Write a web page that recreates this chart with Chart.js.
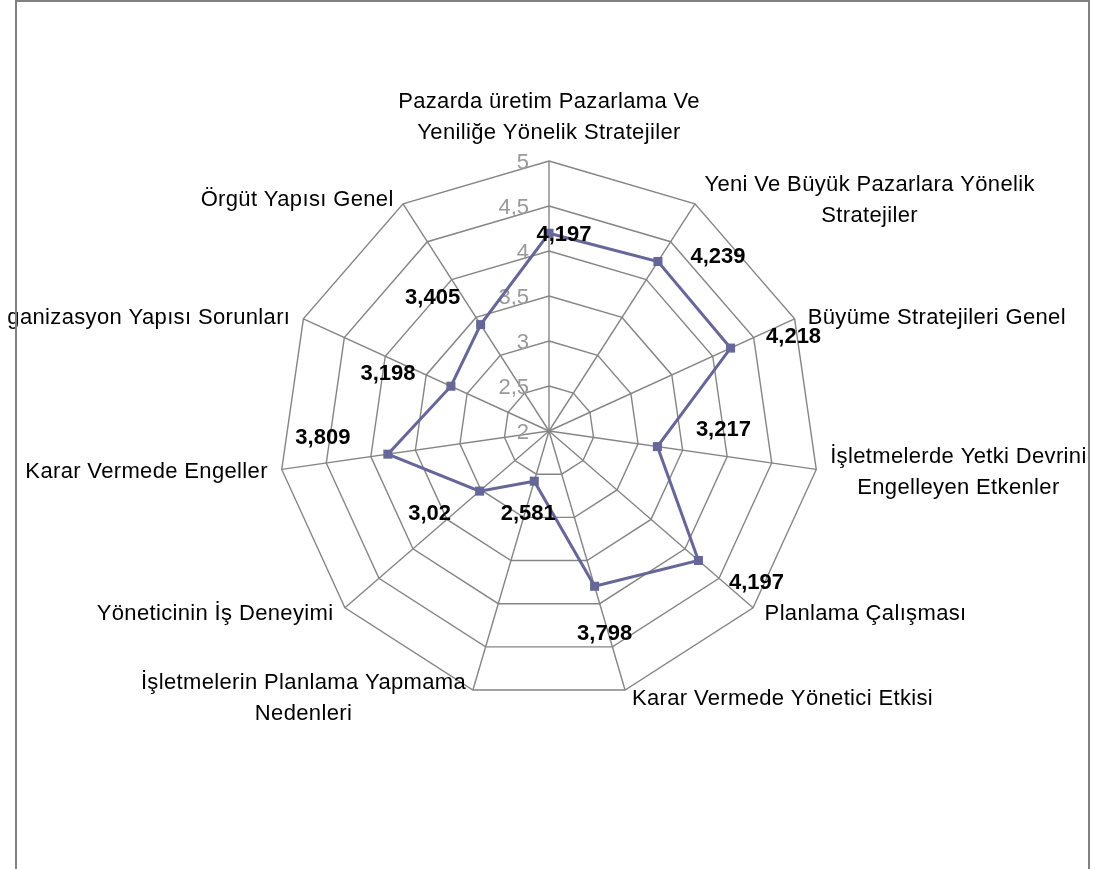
<!DOCTYPE html>
<html>
<head>
<meta charset="utf-8">
<script src="https://cdn.jsdelivr.net/npm/chart.js@4.4.1/dist/chart.umd.min.js"></script>
<style>
  html, body { margin: 0; padding: 0; background: #fff; }
  #wrap { position: relative; width: 1104px; height: 869px; }
</style>
</head>
<body>
<div id="wrap"><canvas id="chart"></canvas></div>
<script>
const categories = [
  ['Pazarda üretim Pazarlama Ve', 'Yeniliğe Yönelik Stratejiler'],
  ['Yeni Ve Büyük Pazarlara Yönelik', 'Stratejiler'],
  ['Büyüme Stratejileri Genel'],
  ['İşletmelerde Yetki Devrini', 'Engelleyen Etkenler'],
  ['Planlama Çalışması'],
  ['Karar Vermede Yönetici Etkisi'],
  ['İşletmelerin Planlama Yapmama', 'Nedenleri'],
  ['Yöneticinin İş Deneyimi'],
  ['Karar Vermede Engeller'],
  ['Organizasyon Yapısı Sorunları'],
  ['Örgüt Yapısı Genel']
];
const values = [4.197, 4.239, 4.218, 3.217, 4.197, 3.798, 2.581, 3.02, 3.809, 3.198, 3.405];
const tickValues = [2, 2.5, 3, 3.5, 4, 4.5, 5];
// where each value label sits relative to its marker
const labelOffsets = [[15, 2], [60, -5], [63, -11], [66, -17], [58, 22], [10, 48], [-6, 33], [-50, 23], [-65, -16], [-63, -12], [-48, -27]];

const FONT = '"Liberation Sans", Arial, sans-serif';
const fmt = v => String(v).replace('.', ',');

const radarText = {
  id: 'radarText',
  beforeDatasetsDraw(chart) {
    const r = chart.scales.r, ctx = chart.ctx;
    ctx.save();
    ctx.font = '22px ' + FONT;
    ctx.fillStyle = '#9a9a9a';
    ctx.textAlign = 'right';
    ctx.textBaseline = 'middle';
    tickValues.forEach(v => {
      const p = r.getPointPositionForValue(0, v);
      ctx.fillText(fmt(v), p.x - 20, p.y + 2);
    });
    ctx.restore();
  },
  afterDatasetsDraw(chart) {
    const r = chart.scales.r, ctx = chart.ctx;
    const R = r.drawingArea;
    ctx.save();
    ctx.beginPath();
    ctx.rect(8, 2, 1080, 900);
    ctx.clip();

    // category labels
    ctx.font = '22px ' + FONT;
    ctx.letterSpacing = '0.35px';
    ctx.fillStyle = '#000';
    ctx.textAlign = 'center';
    ctx.textBaseline = 'middle';
    const lh = 31;
    categories.forEach((lines, i) => {
      const v = r.getPointPosition(i, R);
      const s = (v.x - r.xCenter) / R;
      const c = -(v.y - r.yCenter) / R;
      const h = lines.length * lh;
      const w = Math.max(...lines.map(t => ctx.measureText(t).width));
      let cx, cy;
      if (Math.abs(s) < 0.05) {
        cx = v.x;
        cy = c > 0 ? v.y - 13 - h / 2 : v.y + 13 + h / 2;
      } else {
        const edge = v.x + Math.sign(s) * (4 + 10 * Math.abs(s));
        cx = s > 0 ? edge + w / 2 : edge - w / 2;
        cy = v.y + 2 - 7 * c;
      }
      lines.forEach((t, j) => {
        ctx.fillText(t, cx, cy - h / 2 + lh * (j + 0.5));
      });
    });

    // value labels
    ctx.letterSpacing = '0px';
    ctx.font = 'bold 22px ' + FONT;
    const pts = chart.getDatasetMeta(0).data;
    pts.forEach((pt, i) => {
      const [dx, dy] = labelOffsets[i];
      ctx.fillText(fmt(values[i]), pt.x + dx, pt.y + dy);
    });
    ctx.restore();
  },
  afterDraw(chart) {
    const ctx = chart.ctx;
    ctx.save();
    ctx.strokeStyle = '#808080';
    ctx.lineWidth = 2;
    ctx.strokeRect(16, 1, 1073, 900);
    ctx.restore();
  }
};

new Chart(document.getElementById('chart'), {
  type: 'radar',
  data: {
    labels: categories,
    datasets: [{
      data: values,
      borderColor: '#666699',
      backgroundColor: '#666699',
      borderWidth: 3,
      fill: false,
      pointStyle: 'rect',
      pointRadius: 6.4,
      pointBorderWidth: 0,
      pointBackgroundColor: '#666699'
    }]
  },
  options: {
    responsive: true,
    maintainAspectRatio: false,
    animation: false,
    layout: {padding: {left: 279, right: 285, top: 161, bottom: 168}},
    plugins: {legend: {display: false}, tooltip: {enabled: false}},
    scales: {
      r: {
        min: 2,
        max: 5,
        ticks: {stepSize: 0.5, display: false},
        grid: {color: '#858585', lineWidth: 1.4},
        angleLines: {color: '#858585', lineWidth: 1.4},
        pointLabels: {display: false}
      }
    }
  },
  plugins: [radarText]
});
</script>
</body>
</html>
